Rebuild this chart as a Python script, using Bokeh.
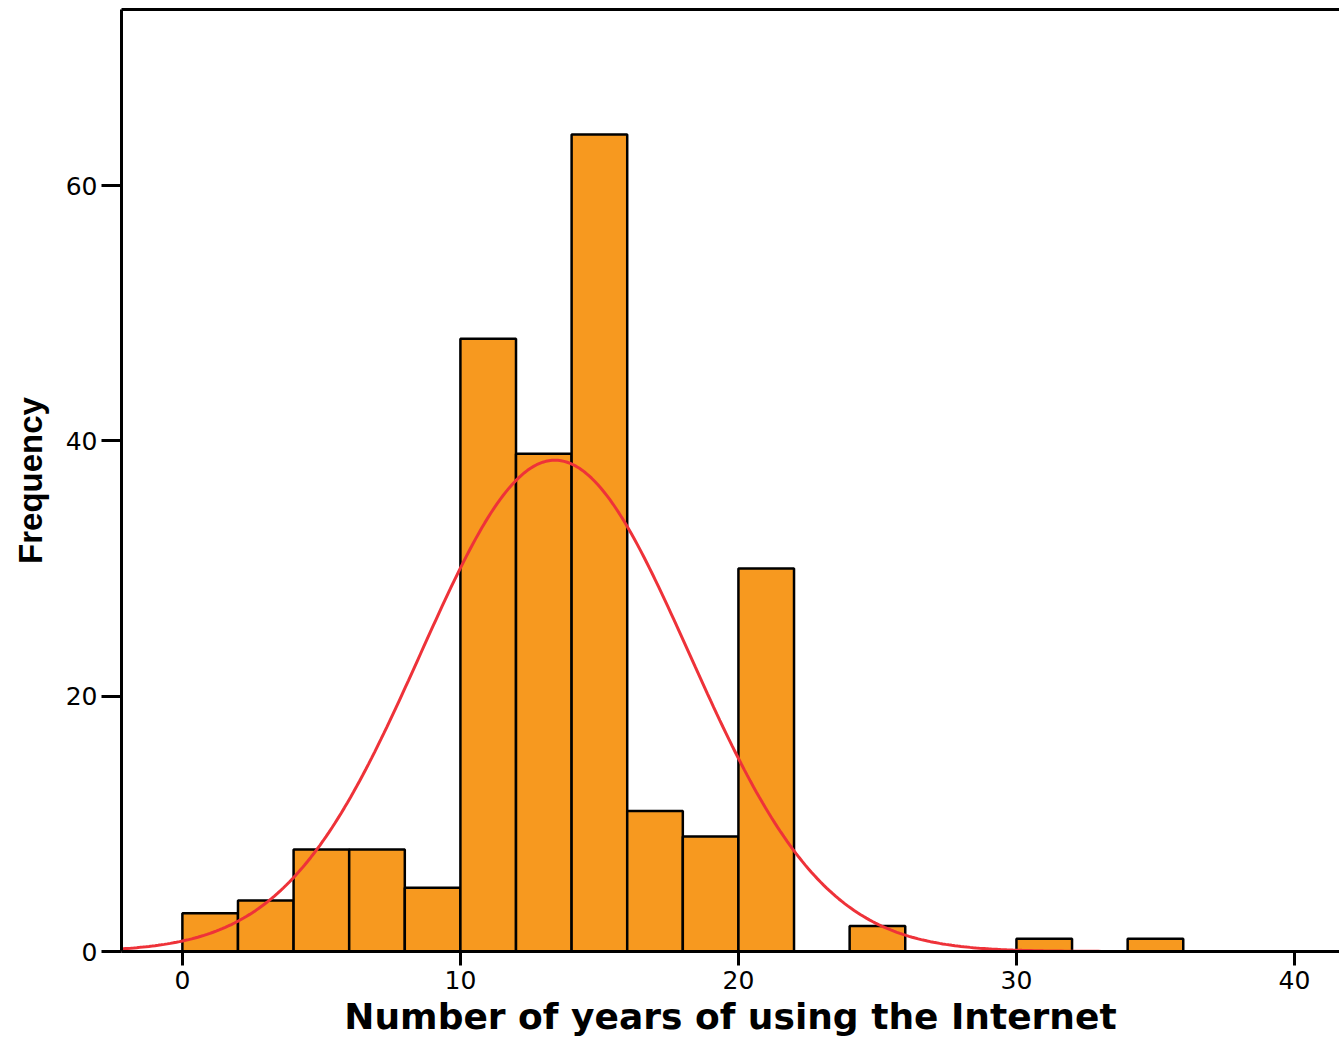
import numpy as np
from bokeh.plotting import figure
from bokeh.models import Range1d, FixedTicker, LinearAxis
from bokeh.embed import file_html
from bokeh.resources import INLINE

# Histogram data (bin edges of width 2)
bin_left = [0, 2, 4, 6, 8, 10, 12, 14, 16, 18, 20, 22, 24, 26, 28, 30, 32, 34]
bin_right = [2, 4, 6, 8, 10, 12, 14, 16, 18, 20, 22, 24, 26, 28, 30, 32, 34, 36]
counts = [3, 4, 8, 8, 5, 48, 39, 64, 11, 9, 30, 0, 2, 0, 0, 1, 0, 1]

# Fitted normal curve parameters
fit_mean = 13.4
fit_sd = 4.83
bin_width = 2
n_total = sum(counts)

x_ticks = [0, 10, 20, 30, 40]
y_ticks = [0, 20, 40, 60]

x_lo, x_hi = -2.19, 41.62
y_lo, y_hi = 0, 73.8

p = figure(width=1339, height=1042, output_backend="svg", toolbar_location=None,
           x_range=Range1d(x_lo, x_hi), y_range=Range1d(y_lo, y_hi),
           min_border_left=121, min_border_right=0, min_border_top=9, min_border_bottom=91)
p.outline_line_color = None
p.grid.visible = False
p.background_fill_color = "white"

nz = [i for i, c in enumerate(counts) if c > 0]
p.quad(left=[bin_left[i] for i in nz], right=[bin_right[i] for i in nz],
       bottom=0, top=[counts[i] for i in nz],
       fill_color="#F7991F", line_color="black", line_width=2.5)

xs = np.linspace(x_lo, x_hi, 400)
ys = n_total * bin_width / (fit_sd * np.sqrt(2 * np.pi)) * np.exp(-0.5 * ((xs - fit_mean) / fit_sd) ** 2)
p.line(xs, ys, line_color="#EE3239", line_width=3)

tick_font = "DejaVu Sans"

xa = p.xaxis[0]
xa.ticker = FixedTicker(ticks=x_ticks)
xa.axis_label = "Number of years of using the Internet"
xa.axis_label_text_font = "DejaVu Sans"
xa.axis_label_text_font_style = "bold"
xa.axis_label_text_font_size = "36px"
xa.axis_label_text_color = "black"
xa.axis_label_standoff = 4
xa.major_label_text_font = tick_font
xa.major_label_text_font_size = "25px"
xa.major_label_text_color = "black"
xa.major_label_standoff = 5
xa.axis_line_width = 3
xa.major_tick_line_width = 3
xa.major_tick_out = 14
xa.major_tick_in = 0
xa.minor_tick_line_color = None

ya = p.yaxis[0]
ya.ticker = FixedTicker(ticks=y_ticks)
ya.axis_label = "Frequency"
ya.axis_label_text_font = "Liberation Sans"
ya.axis_label_text_font_style = "bold"
ya.axis_label_text_font_size = "33px"
ya.axis_label_text_color = "black"
ya.axis_label_standoff = 14
ya.major_label_text_font = tick_font
ya.major_label_text_font_size = "25px"
ya.major_label_text_color = "black"
ya.major_label_standoff = 4
ya.axis_line_width = 3
ya.major_tick_line_width = 3
ya.major_tick_out = 20
ya.major_tick_in = 0
ya.minor_tick_line_color = None

top = LinearAxis(ticker=FixedTicker(ticks=[]), major_label_text_font_size="0px",
                 axis_line_width=3, major_tick_line_color=None, minor_tick_line_color=None)
p.add_layout(top, "above")

open("out.html", "w").write(file_html(p, INLINE))
